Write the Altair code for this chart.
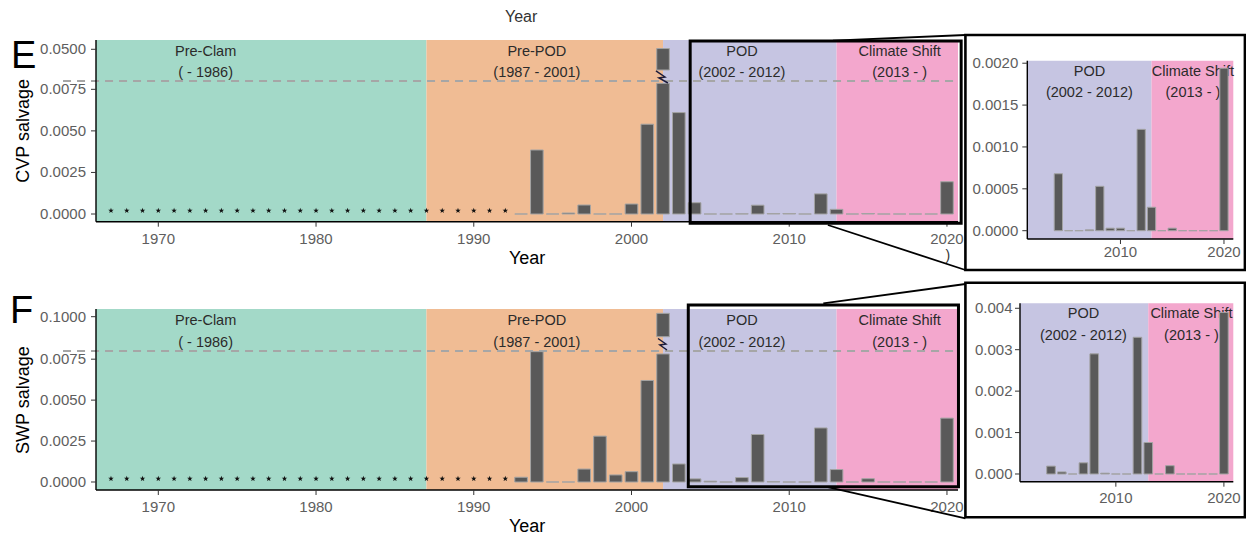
import altair as alt
import pandas as pd

# ---------------- data ----------------
years = list(range(1993, 2021))
cvp_salvage = [0, 0.00385, 0, 0.00006, 0.00054, 0, 0, 0.0006, 0.0054, 0.051, 0.0061,
               0.00068, 0, 0, 0.00001, 0.00053, 0.00003, 0.00003, 0, 0.00121, 0.00028,
               0, 0.00003, 0, 0, 0, 0, 0.00194]
swp_salvage = [0.00029, 0.00796, 0, 0, 0.00079, 0.0028, 0.00043, 0.00063, 0.0062, 0.109,
               0.0011, 0.00019, 0.00005, 0, 0.00027, 0.0029, 0.00002, 0, 0, 0.0033,
               0.00076, 0, 0.0002, 0, 0, 0, 0, 0.0039]
star_years = list(range(1967, 1993))
star_level = 0.0002
inset_first_year = 2004

period_name = ["Pre-Clam", "Pre-POD", "POD", "Climate Shift"]
period_range = ["( - 1986)", "(1987 - 2001)", "(2002 - 2012)", "(2013 - )"]
period_start = [1966.05, 1987, 2002, 2013]
period_end = [1987, 2002, 2013, 2020.7]
period_label_x = [1973, 1994, 2007, 2017]
period_color = ["#a3d9c8", "#f0bc94", "#c6c5e2", "#f3a7cd"]

x_ticks_main = [1970, 1980, 1990, 2000, 2010, 2020]
x_ticks_inset = [2010, 2020]
cvp_ticks = [0, 0.0025, 0.005, 0.0075, 0.05]
swp_ticks = [0, 0.0025, 0.005, 0.0075, 0.1]
cvp_inset_ticks = [0, 0.0005, 0.001, 0.0015, 0.002]
swp_inset_ticks = [0, 0.001, 0.002, 0.003, 0.004]
break_value = 0.008

W, H = 1238, 528
FONT = "Liberation Sans"
BAR_FILL = "#595959"
BAR_STROKE = "#a3a3a3"
LABEL_GRAY = "#5e5e5e"
STAR_PATH = ("M0,-1L0.235,-0.324L0.951,-0.309L0.38,0.124L0.588,0.809L0,0.4"
             "L-0.588,0.809L-0.38,0.124L-0.951,-0.309L-0.235,-0.324Z")
MAIN_X_DOM = [1966.05, 2020.7]
MAIN_X_RNG = [88, 950]


def sc(domain, rng):
    return alt.Scale(domain=domain, range=rng, nice=False, zero=False)


def enc(xsc, ysc, xf, yf, **kw):
    return dict(x=alt.X(xf, scale=xsc, axis=None), y=alt.Y(yf, scale=ysc, axis=None), **kw)


def background(starts, ends, colors, ylo, yhi, xsc, ysc):
    df = pd.DataFrame({"start": starts, "end": ends, "color": colors,
                       "ylo": [ylo] * len(starts), "yhi": [yhi] * len(starts)})
    return alt.Chart(df).mark_rect().encode(
        **enc(xsc, ysc, "start:Q", "ylo:Q", x2="end:Q", y2="yhi:Q",
              color=alt.Color("color:N", scale=None)))


def labels(xs, l1, l2, y1, y2, xsc, ysc):
    df = pd.DataFrame({"lx": xs, "l1": l1, "l2": l2,
                       "y1": [y1] * len(xs), "y2": [y2] * len(xs)})
    base = alt.Chart(df).mark_text(font=FONT, fontSize=14.5, color="#2b2b2b",
                                   baseline="middle", align="center")
    return base.encode(**enc(xsc, ysc, "lx:Q", "y1:Q", text="l1:N")) + \
        base.encode(**enc(xsc, ysc, "lx:Q", "y2:Q", text="l2:N"))


def bar_layers(yrs, vals, xsc, ysc, lo_cut=None, hi_cut=None):
    df = pd.DataFrame({"year": yrs, "value": vals})
    base = alt.Chart(df).transform_calculate(
        lo="datum.year - 0.4", hi="datum.year + 0.4", base="0")
    mk = dict(fill=BAR_FILL, stroke=BAR_STROKE, strokeWidth=1)
    if lo_cut is None:
        return base.mark_rect(**mk).encode(
            **enc(xsc, ysc, "lo:Q", "base:Q", x2="hi:Q", y2="value:Q"))
    lower = base.transform_calculate(
        top=f"datum.value > {break_value} ? {lo_cut} : datum.value"
    ).mark_rect(**mk).encode(**enc(xsc, ysc, "lo:Q", "base:Q", x2="hi:Q", y2="top:Q"))
    upper = base.transform_filter(f"datum.value > {break_value}").transform_calculate(
        bot=str(hi_cut)
    ).mark_rect(**mk).encode(**enc(xsc, ysc, "lo:Q", "bot:Q", x2="hi:Q", y2="value:Q"))
    return lower + upper


def axis_layers(xsc, ysc, xdom, ydom, xt, yt, yfmt, xlab_dy, ylab_dx):
    xmin, xmax = xdom[0], xdom[-1]
    ymin, ymax = ydom[0], ydom[-1]
    lines = []
    xl = pd.DataFrame({"x0": [xmin], "x1": [xmax], "y": [ymin]})
    lines.append(alt.Chart(xl).mark_rule(color="black", strokeWidth=1.4).encode(
        **enc(xsc, ysc, "x0:Q", "y:Q", x2="x1:Q")))
    yl = pd.DataFrame({"x": [xmin], "y0": [ymin], "y1": [ymax]})
    lines.append(alt.Chart(yl).mark_rule(color="black", strokeWidth=1.4).encode(
        **enc(xsc, ysc, "x:Q", "y0:Q", y2="y1:Q")))
    xtd = pd.DataFrame({"v": xt, "y": [ymin] * len(xt)})
    lines.append(alt.Chart(xtd).mark_rule(color="#333333", strokeWidth=1, y2Offset=5).encode(
        **enc(xsc, ysc, "v:Q", "y:Q", y2="y:Q")))
    lines.append(alt.Chart(xtd).mark_text(font=FONT, fontSize=15, color=LABEL_GRAY,
                                          baseline="middle", align="center",
                                          dy=xlab_dy).encode(
        **enc(xsc, ysc, "v:Q", "y:Q", text=alt.Text("v:Q", format="d"))))
    ytd = pd.DataFrame({"v": yt, "x": [xmin] * len(yt)})
    lines.append(alt.Chart(ytd).mark_rule(color="#333333", strokeWidth=1, x2Offset=-5).encode(
        **enc(xsc, ysc, "x:Q", "v:Q", x2="x:Q")))
    lines.append(alt.Chart(ytd).mark_text(font=FONT, fontSize=15, color=LABEL_GRAY,
                                          baseline="middle", align="right",
                                          dx=ylab_dx).encode(
        **enc(xsc, ysc, "x:Q", "v:Q", text=alt.Text("v:Q", format=yfmt))))
    return lines


def main_panel(vals, ysc, ydom, ticks, fmt, ytitle, lab_y, cuts, zig, box, conns,
               ibox, letter, letter_xy):
    xsc = sc(MAIN_X_DOM, MAIN_X_RNG)
    layers = [background(period_start, period_end, period_color, ydom[0], ydom[-1],
                         xsc, ysc)]
    layers.append(labels(period_label_x, period_name, period_range, lab_y[0], lab_y[1],
                         xsc, ysc))
    dash = pd.DataFrame({"x0": [1963.96], "x1": [MAIN_X_DOM[1]], "y": [break_value]})
    layers.append(alt.Chart(dash).mark_rule(color="#a6a6a6", strokeWidth=1.8,
                                            strokeDash=[8, 6]).encode(
        **enc(xsc, ysc, "x0:Q", "y:Q", x2="x1:Q")))
    layers.append(bar_layers(years, vals, xsc, ysc, cuts[0], cuts[1]))
    stars = pd.DataFrame({"year": star_years, "lvl": [star_level] * len(star_years)})
    layers.append(alt.Chart(stars).mark_point(shape=STAR_PATH, filled=True, color="#111111",
                                              size=34, opacity=1).encode(
        **enc(xsc, ysc, "year:Q", "lvl:Q")))
    zdf = pd.DataFrame({"zx": zig[0], "zy": zig[1], "o": list(range(len(zig[0])))})
    layers.append(alt.Chart(zdf).mark_line(color="#1c1c3c", strokeWidth=1.5).encode(
        **enc(xsc, ysc, "zx:Q", "zy:Q", order="o:Q")))
    layers += axis_layers(xsc, ysc, MAIN_X_DOM, ydom, x_ticks_main, ticks, fmt, 17, -10)
    # axis titles
    ttl = pd.DataFrame({"tx": [1993.38], "ty": [ydom[0]], "t": ["Year"]})
    layers.append(alt.Chart(ttl).mark_text(font=FONT, fontSize=18, color="black",
                                           baseline="middle", dy=37).encode(
        **enc(xsc, ysc, "tx:Q", "ty:Q", text="t:N")))
    ytl = pd.DataFrame({"tx": [1961.48], "ty": [0.005], "t": [ytitle]})
    layers.append(alt.Chart(ytl).mark_text(font=FONT, fontSize=18, color="black",
                                           baseline="middle", angle=270).encode(
        **enc(xsc, ysc, "tx:Q", "ty:Q", text="t:N")))
    # zoom boxes and connectors
    bdf = pd.DataFrame({"x0": [box[0], ibox[0]], "x1": [box[1], ibox[1]],
                        "y0": [box[2], ibox[2]], "y1": [box[3], ibox[3]],
                        "w": [3, 2.6]})
    layers.append(alt.Chart(bdf).mark_rect(filled=False, color="black").encode(
        **enc(xsc, ysc, "x0:Q", "y0:Q", x2="x1:Q", y2="y1:Q",
              strokeWidth=alt.StrokeWidth("w:Q", scale=None))))
    cdf = pd.DataFrame({"x0": conns[0], "y0": conns[1], "x1": conns[2], "y1": conns[3]})
    layers.append(alt.Chart(cdf).mark_rule(color="black", strokeWidth=1.8).encode(
        **enc(xsc, ysc, "x0:Q", "y0:Q", x2="x1:Q", y2="y1:Q")))
    ldf = pd.DataFrame({"lx": [letter_xy[0]], "ly": [letter_xy[1]], "t": [letter]})
    layers.append(alt.Chart(ldf).mark_text(font=FONT, fontSize=38, color="black",
                                           align="left", baseline="alphabetic").encode(
        **enc(xsc, ysc, "lx:Q", "ly:Q", text="t:N")))
    return alt.layer(*layers)


def inset_panel(vals, xdom, xrng, ydom, yrng, ticks, fmt, lab_y, xlab_dy, ylab_dx):
    xsc = sc(xdom, xrng)
    ysc = sc(ydom, yrng)
    bg = background([xdom[0], 2013], [2013, xdom[1]], period_color[2:], ydom[0], ydom[1],
                    xsc, ysc)
    txt = labels(period_label_x[2:], period_name[2:], period_range[2:], lab_y[0], lab_y[1],
                 xsc, ysc)
    iy = [y for y in years if y >= inset_first_year]
    iv = [v for y, v in zip(years, vals) if y >= inset_first_year]
    ax = axis_layers(xsc, ysc, xdom, ydom, x_ticks_inset, ticks, fmt, xlab_dy, ylab_dx)
    return alt.layer(bg, txt, bar_layers(iy, iv, xsc, ysc), *ax)


# top (CVP)
y_top_dom = [-0.000463, break_value, 0.0623]
top_main = main_panel(
    cvp_salvage, sc(y_top_dom, [213.7, 73, 32]), y_top_dom, cvp_ticks, ".4f", "CVP salvage",
    (0.0468, 0.0182), (0.00786, 0.02257),
    ([2001.55, 2002.12, 2001.74, 2002.31], [0.02125, 0.0133, 0.01197, 0.00788]),
    (2003.72, 2020.9, -0.000559, 0.0610),
    ([2012.77, 2012.45], [0.0614, -0.000662], [2021.17, 2021.17], [0.0689, -0.003368]),
    (2021.17, 2038.89, -0.003368, 0.0689),
    "E", (1960.66, 0.02522),
)
top_inset = inset_panel(cvp_salvage, [2001.0, 2020.9], [1019.3, 1225.3],
                        [-0.0000992, 0.00203], [231, 52.7], cvp_inset_ticks, ".4f",
                        (0.0019, 0.00165), 13, -9)

# bottom (SWP)
y_bot_dom = [-0.000489, break_value, 0.12065]
bot_main = main_panel(
    swp_salvage, sc(y_bot_dom, [482, 343, 301]), y_bot_dom, swp_ticks, ".4f", "SWP salvage",
    (0.08927, 0.03026), (0.00782, 0.04636),
    ([2001.68, 2002.18, 2001.80, 2002.25], [0.04153, 0.02678, 0.02409, 0.01068]),
    (2003.6, 2020.73, -0.000287, 0.1314),
    ([2012.16, 2012.38], [0.1359, -0.000305], [2021.17, 2021.17], [0.1877, -0.002217]),
    (2021.17, 2038.89, -0.002156, 0.1912),
    "F", (1960.6, 0.08315),
)
bot_inset = inset_panel(swp_salvage, [2001.13, 2020.87], [1012, 1225.3],
                        [-0.000186, 0.00412], [473.7, 295.3], swp_inset_ticks, ".3f",
                        (0.00385, 0.003331), 16, -7.5)

# stray texts: axis title from the panel above, and a stray bracket under 2020
stray_x = [1993.0, 2020.05]
stray_y = [0.0928, -0.00253]
stray_t = ["Year", ")"]
stray_size = [16, 14]
sdf = pd.DataFrame({"lx": stray_x, "ly": stray_y, "t": stray_t, "fs": stray_size})
stray = alt.Chart(sdf).mark_text(font=FONT, color="#333333", baseline="middle").encode(
    **enc(sc(MAIN_X_DOM, MAIN_X_RNG), sc(y_top_dom, [213.7, 73, 32]), "lx:Q", "ly:Q",
          text="t:N", size=alt.Size("fs:Q", scale=None)))

chart = alt.layer(top_main, top_inset, bot_main, bot_inset, stray).resolve_scale(
    x="independent", y="independent"
).properties(
    width=W, height=H, padding=0, autosize=alt.AutoSizeParams(type="none")
).configure_view(stroke=None).configure_text(font=FONT)

chart.save("out.html", embed_options={"renderer": "svg", "actions": False})
